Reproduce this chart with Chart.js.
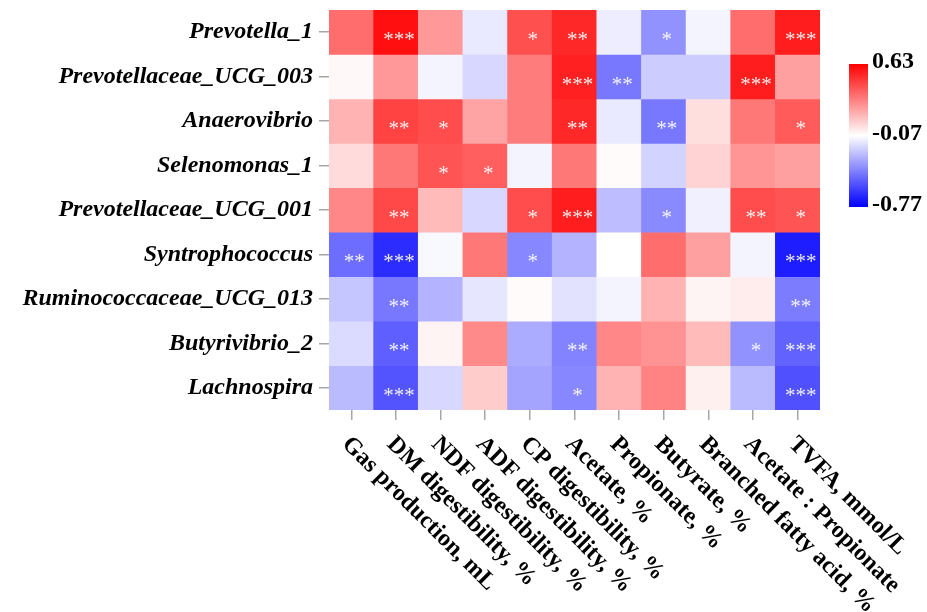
<!DOCTYPE html>
<html>
<head>
<meta charset="utf-8">
<script src="https://cdn.jsdelivr.net/npm/chart.js@4/dist/chart.umd.min.js"></script>
<style>
  html, body { margin: 0; padding: 0; background: #ffffff; }
  #wrap { width: 927px; height: 612px; }
</style>
</head>
<body>
<div id="wrap"><canvas id="heat" width="927" height="612"></canvas></div>
<script>
// Rumen taxa (rows, top to bottom)
const taxa = [
  'Prevotella_1',
  'Prevotellaceae_UCG_003',
  'Anaerovibrio',
  'Selenomonas_1',
  'Prevotellaceae_UCG_001',
  'Syntrophococcus',
  'Ruminococcaceae_UCG_013',
  'Butyrivibrio_2',
  'Lachnospira'
];

// Fermentation parameters (columns, left to right)
const measures = [
  'Gas production, mL',
  'DM digestibility, %',
  'NDF digestibility, %',
  'ADF digestibility, %',
  'CP digestibility, %',
  'Acetate, %',
  'Propionate, %',
  'Butyrate, %',
  'Branched fatty acid, %',
  'Acetate : Propionate',
  'TVFA, mmol/L'
];

// Spearman correlation coefficients, one array per taxon
const rPrevotella1    = [ 0.33,  0.59,  0.21, -0.13,  0.41,  0.52, -0.12, -0.37, -0.10,  0.33,  0.55];
const rPrevUCG003     = [-0.05,  0.21, -0.10, -0.18,  0.29,  0.54, -0.44, -0.21, -0.21,  0.55,  0.19];
const rAnaerovibrio   = [ 0.14,  0.45,  0.42,  0.18,  0.29,  0.52, -0.13, -0.44,  0.02,  0.30,  0.38];
const rSelenomonas1   = [ 0.03,  0.30,  0.40,  0.37, -0.10,  0.30, -0.06, -0.19,  0.05,  0.22,  0.19];
const rPrevUCG001     = [ 0.26,  0.43,  0.12, -0.18,  0.42,  0.55, -0.25, -0.39, -0.11,  0.42,  0.40];
const rSyntrophococcus= [-0.47, -0.65, -0.09,  0.30, -0.40, -0.28, -0.07,  0.33,  0.19, -0.10, -0.69];
const rRuminoUCG013   = [-0.23, -0.44, -0.28, -0.14, -0.06, -0.15, -0.10,  0.14, -0.04, -0.02, -0.43];
const rButyrivibrio2  = [-0.17, -0.51, -0.04,  0.25, -0.30, -0.41,  0.26,  0.23,  0.12, -0.37, -0.50];
const rLachnospira    = [-0.26, -0.54, -0.18,  0.07, -0.32, -0.40,  0.14,  0.27, -0.03, -0.26, -0.55];

// Significance marks (* P<0.05, ** P<0.01, *** P<0.001)
const sPrevotella1    = ['',   '***', '',  '',  '*', '**',  '',   '*',  '', '',    '***'];
const sPrevUCG003     = ['',   '',    '',  '',  '',  '***', '**', '',   '', '***', ''];
const sAnaerovibrio   = ['',   '**',  '*', '',  '',  '**',  '',   '**', '', '',    '*'];
const sSelenomonas1   = ['',   '',    '*', '*', '',  '',    '',   '',   '', '',    ''];
const sPrevUCG001     = ['',   '**',  '',  '',  '*', '***', '',   '*',  '', '**',  '*'];
const sSyntrophococcus= ['**', '***', '',  '',  '*', '',    '',   '',   '', '',    '***'];
const sRuminoUCG013   = ['',   '**',  '',  '',  '',  '',    '',   '',   '', '',    '**'];
const sButyrivibrio2  = ['',   '**',  '',  '',  '',  '**',  '',   '',   '', '*',   '***'];
const sLachnospira    = ['',   '***', '',  '',  '',  '*',   '',   '',   '', '',    '***'];

// Colour scale limits shown on the colour bar
const scaleTicks = [0.63, -0.07, -0.77];

const corrRows = [rPrevotella1, rPrevUCG003, rAnaerovibrio, rSelenomonas1, rPrevUCG001,
                  rSyntrophococcus, rRuminoUCG013, rButyrivibrio2, rLachnospira];
const starRows = [sPrevotella1, sPrevUCG003, sAnaerovibrio, sSelenomonas1, sPrevUCG001,
                  sSyntrophococcus, sRuminoUCG013, sButyrivibrio2, sLachnospira];

const vMax = Math.max(...scaleTicks);
const vMin = Math.min(...scaleTicks);
const vMid = scaleTicks.filter(v => v !== vMax && v !== vMin)[0];

// blue -> white -> red
function colorFor(v) {
  let r, g, b;
  if (v >= vMid) {
    const t = Math.min(1, (v - vMid) / (vMax - vMid));
    r = 255; g = Math.round(255 * (1 - t)); b = g;
  } else {
    const t = Math.min(1, (vMid - v) / (vMid - vMin));
    b = 255; r = Math.round(255 * (1 - t)); g = r;
  }
  return `rgb(${r},${g},${b})`;
}

const SERIF = '"Liberation Serif", "Times New Roman", serif';
const TICK_GREY = '#a6a6a6';

// one floating-bar dataset per taxon, each bar spanning one row band
const datasets = corrRows.map((row, r) => ({
  label: taxa[r],
  data: row.map(() => [r - 0.5, r + 0.5]),
  backgroundColor: row.map(colorFor),
  borderWidth: 0,
  barPercentage: 1,
  categoryPercentage: 1,
  grouped: false
}));

// significance asterisks in each cell
const starPlugin = {
  id: 'stars',
  afterDatasetsDraw(chart) {
    const { ctx, scales: { x, y } } = chart;
    ctx.save();
    ctx.fillStyle = 'rgba(255,255,255,0.9)';
    ctx.font = `21px ${SERIF}`;
    ctx.textAlign = 'center';
    ctx.textBaseline = 'alphabetic';
    starRows.forEach((row, r) => {
      row.forEach((s, c) => {
        if (!s) return;
        const px = x.getPixelForValue(c) + 3;
        const py = y.getPixelForValue(r) + 14;
        ctx.fillText(s, px, py);
      });
    });
    ctx.restore();
  }
};

// slanted column labels running down-right from each tick
const xLabelPlugin = {
  id: 'xlabels',
  afterDraw(chart) {
    const { ctx, scales: { x } } = chart;
    ctx.save();
    ctx.fillStyle = '#000';
    ctx.font = `bold 24px ${SERIF}`;
    ctx.textAlign = 'left';
    ctx.textBaseline = 'alphabetic';
    measures.forEach((m, i) => {
      const px = x.getPixelForValue(i) - 10;
      const py = x.top + 35;
      ctx.save();
      ctx.translate(px, py);
      ctx.rotate(Math.PI / 4);
      ctx.fillText(m, 0, 0);
      ctx.restore();
    });
    ctx.restore();
  }
};

// vertical colour bar at the right
const colorBarPlugin = {
  id: 'colorbar',
  afterDraw(chart) {
    const { ctx, chartArea } = chart;
    const left = chartArea.right + 29, width = 19;
    const top = chartArea.top + 54, bottom = chartArea.top + 197;
    const grad = ctx.createLinearGradient(0, top, 0, bottom);
    grad.addColorStop(0, colorFor(vMax));
    grad.addColorStop((vMax - vMid) / (vMax - vMin), colorFor(vMid));
    grad.addColorStop(1, colorFor(vMin));
    ctx.save();
    ctx.fillStyle = grad;
    ctx.fillRect(left, top, width, bottom - top);
    ctx.fillStyle = '#000';
    ctx.font = `bold 24px ${SERIF}`;
    ctx.textAlign = 'left';
    ctx.textBaseline = 'middle';
    scaleTicks.forEach(v => {
      const py = top + (vMax - v) / (vMax - vMin) * (bottom - top);
      ctx.fillText(v.toFixed(2), left + width + 4, py - 2);
    });
    ctx.restore();
  }
};

new Chart(document.getElementById('heat'), {
  type: 'bar',
  data: { labels: measures, datasets },
  options: {
    responsive: false,
    animation: false,
    layout: { padding: { top: 10, right: 107, bottom: 0, left: 0 } },
    plugins: { legend: { display: false }, tooltip: { enabled: false } },
    scales: {
      x: {
        type: 'category',
        offset: true,
        border: { display: false },
        grid: { offset: false, drawOnChartArea: false, drawTicks: true, tickLength: 10, color: TICK_GREY, lineWidth: 1.5 },
        ticks: { display: false },
        afterFit(scale) { scale.height = 202; }
      },
      y: {
        type: 'linear',
        reverse: true,
        min: -0.5,
        max: 8.5,
        border: { display: false },
        grid: { drawOnChartArea: false, drawTicks: true, tickLength: 10, color: TICK_GREY, lineWidth: 1.5 },
        afterBuildTicks(scale) { scale.ticks = taxa.map((_, i) => ({ value: i })); },
        ticks: {
          callback: v => taxa[v],
          color: '#000',
          padding: 6,
          font: { family: SERIF, size: 24, weight: 'bold', style: 'italic' }
        },
        afterFit(scale) {
          scale.width = 329;
          scale.paddingTop = 0;
          scale.paddingBottom = 0;
        }
      }
    }
  },
  plugins: [starPlugin, xLabelPlugin, colorBarPlugin]
});
</script>
</body>
</html>
